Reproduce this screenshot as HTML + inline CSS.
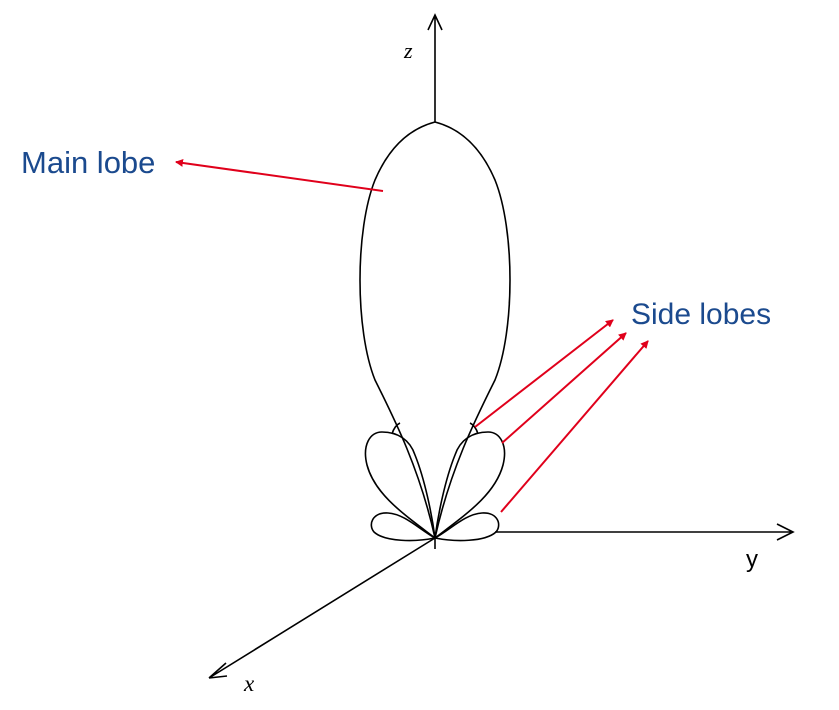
<!DOCTYPE html>
<html><head><meta charset="utf-8"><style>
html,body{margin:0;padding:0;background:#fff;width:839px;height:710px;overflow:hidden}
svg{display:block}
</style></head><body>
<svg width="839" height="710" viewBox="0 0 839 710">
<defs>
<marker id="ra" markerWidth="8" markerHeight="8" refX="7" refY="4" orient="auto" markerUnits="userSpaceOnUse" viewBox="0 0 8 8"><path d="M0,0 L8,4 L0,8 z" fill="#e0001b"/></marker>
</defs>
<g fill="none" stroke="#000" stroke-width="1.6">
<path d="M435,122 L435,16 M428,30 L435,15 L442,30"/>
<path d="M495,532 L793,532 M777,524 L793,532 L777,540"/>
<path d="M435,538 L209,678 M209,678 L226,663 M209,678 L227,676"/>
<path d="M435,538 L435,549"/>
<path d="M435,538 C420,470 395,420 375,380 C355,330 355,230 375,180 C390,145 412,128 435,122 C458,128 480,145 495,180 C515,230 515,330 495,380 C475,420 450,470 435,538 Z"/>
<path d="M392,434 C394,427 398,424 400,423"/>
<path d="M478,434 C476,427 472,424 470,423"/>
<path d="M435,538 C405,515 375,495 367,465 C362,445 370,432 382,432 C398,432 410,440 415,455 C425,480 432,515 435,538"/>
<path d="M435,538 C465,515 495,495 503,465 C508,445 500,432 488,432 C472,432 460,440 455,455 C445,480 438,515 435,538"/>
<path d="M435,538 C420,530 405,514 388,513 C372,512 368,525 374,532 C385,542 415,542 435,538"/>
<path d="M435,538 C450,530 465,514 482,513 C498,512 502,525 496,532 C485,542 455,542 435,538"/>
</g>
<g stroke="#e0001b" stroke-width="2" fill="none">
<line x1="383" y1="191" x2="176" y2="162" marker-end="url(#ra)"/>
<line x1="475" y1="427" x2="613" y2="320" marker-end="url(#ra)"/>
<line x1="502" y1="443" x2="626" y2="333" marker-end="url(#ra)"/>
<line x1="501" y1="512" x2="648" y2="341" marker-end="url(#ra)"/>
</g>
<text x="21" y="173" font-family="Liberation Sans, sans-serif" font-size="31" fill="#1b4a8e">Main lobe</text>
<text x="631" y="324" font-family="Liberation Sans, sans-serif" font-size="30" fill="#1b4a8e">Side lobes</text>
<text x="404" y="58" font-family="Liberation Serif, serif" font-style="italic" font-size="22" fill="#000">z</text>
<text x="746" y="567" font-family="Liberation Sans, sans-serif" font-size="24" fill="#000">y</text>
<text x="244" y="691" font-family="Liberation Serif, serif" font-style="italic" font-size="23" fill="#000">x</text>
</svg>
</body></html>
